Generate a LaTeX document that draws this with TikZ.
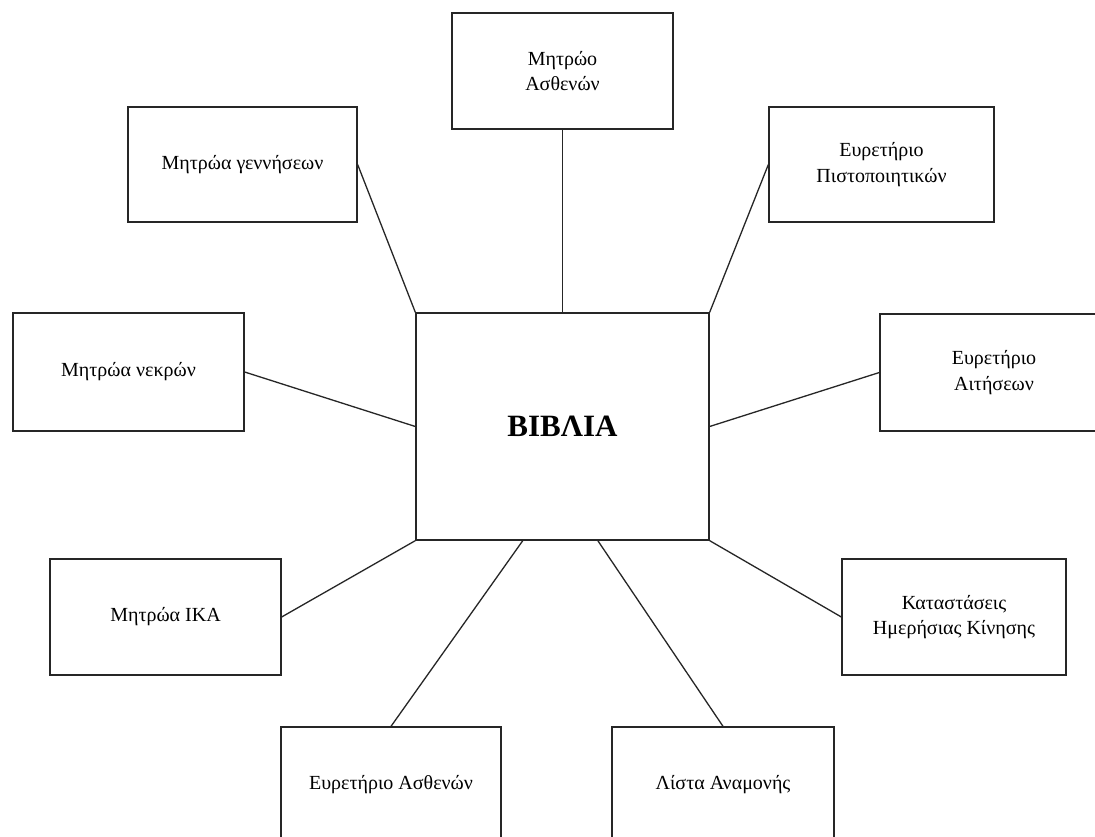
\documentclass[tikz,border=0pt]{standalone}
\usepackage{fontspec}
\setmainfont{Liberation Serif}
\usetikzlibrary{calc}
\begin{document}
\begin{tikzpicture}[x=1pt,y=-1pt,
  boxnode/.style={draw=black!85,line width=1.3pt,inner sep=0pt,align=center,
    font=\fontsize{20}{25.5}\selectfont},
  link/.style={draw=black!85,line width=1.3pt}]
\clip (0,0) rectangle (1095,837);
\fill[white] (0,0) rectangle (1095,837);
\node[boxnode,minimum width=293pt,minimum height=227pt,font=\fontsize{31}{36}\selectfont\bfseries] (cen) at (562.5,426.5) {ΒΙΒΛΙΑ};
\node[boxnode,minimum width=221pt,minimum height=116pt] (tb) at (562.5,71) {Μητρώο\\Ασθενών};
\node[boxnode,minimum width=229pt,minimum height=115pt] (gen) at (242.5,164.5) {Μητρώα γεννήσεων};
\node[boxnode,minimum width=225pt,minimum height=115pt] (pist) at (881.5,164.5) {Ευρετήριο\\Πιστοποιητικών};
\node[boxnode,minimum width=231pt,minimum height=118pt] (nek) at (128.5,372) {Μητρώα νεκρών};
\node[boxnode,minimum width=228pt,minimum height=117pt] (ait) at (994,372.5) {Ευρετήριο\\Αιτήσεων};
\node[boxnode,minimum width=231pt,minimum height=116pt] (ika) at (165.5,617) {Μητρώα ΙΚΑ};
\node[boxnode,minimum width=224pt,minimum height=116pt] (kat) at (954,617) {Καταστάσεις\\Ημερήσιας Κίνησης};
\node[boxnode,minimum width=220pt,minimum height=115pt] (eura) at (391,784.5) {Ευρετήριο Ασθενών};
\node[boxnode,minimum width=222pt,minimum height=115pt] (lis) at (723,784.5) {Λίστα Αναμονής};
\draw[link] (tb.south) -- (cen.north);
\draw[link] (gen.east) -- (cen.north west);
\draw[link] (pist.west) -- (cen.north east);
\draw[link] (nek.east) -- (cen.west);
\draw[link] (ait.west) -- (cen.east);
\draw[link] (ika.east) -- (cen.south west);
\draw[link] (kat.west) -- (cen.south east);
\draw[link] (eura.north) -- ($(cen.south west)!0.365!(cen.south east)$);
\draw[link] (lis.north) -- ($(cen.south west)!0.62!(cen.south east)$);
\end{tikzpicture}
\end{document}
